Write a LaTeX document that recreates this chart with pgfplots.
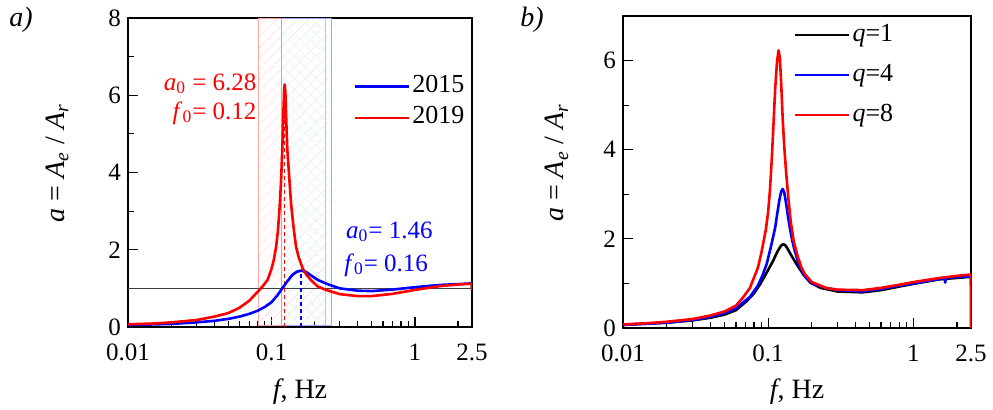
\documentclass[border=0pt]{standalone}
\usepackage{fontspec}
\setmainfont{Liberation Serif}
\usepackage{pgfplots}
\pgfplotsset{compat=1.18}
\usetikzlibrary{patterns.meta}

\pgfplotsset{
  legend image code/.code={\draw[#1] (0pt,0pt) -- (27pt,0pt);},
  every axis/.append style={
    scale only axis,
    xmin=0.01, xmax=2.5,
    ymin=0,
    xtick={0.01,0.1,1,2.5},
    xticklabels={0.01,0.1,1,2.5},
    minor xtick={0.02,0.03,0.04,0.05,0.06,0.07,0.08,0.09,0.2,0.3,0.4,0.5,0.6,0.7,0.8,0.9,2},
    minor y tick num=1,
    tick align=inside,
    xtick pos=bottom, ytick pos=left,
    major tick length=5pt, minor tick length=3pt,
    axis line style={line width=0.7pt},
    tick style={black, line width=0.6pt},
    /pgf/number format/assume math mode=true,
    tick label style={font=\fontsize{12.5}{14}\selectfont},
    xticklabel style={yshift=-5pt},
    label style={font=\fontsize{14}{16}\selectfont},
    xlabel={\textit{f}, Hz},
    ylabel={\textit{a} = \textit{A}\textsubscript{\textit{e}} / \textit{A}\textsubscript{\textit{r}}},
    legend style={draw=none, fill=none, font=\fontsize{13}{15}\selectfont,
      inner sep=0pt, nodes={text height=9pt, text depth=3pt, inner sep=1pt}},
    legend cell align=left,
    every axis plot/.append style={line join=round},
  },
}

\begin{document}
\begin{tikzpicture}
\useasboundingbox (-64pt,-41pt) rectangle (432.5pt,163.5pt);

% panel a
\begin{semilogxaxis}[
  width=172pt, height=154.5pt,
  ymax=8, ytick={0,2,4,6,8},
  xlabel style={at={(axis description cs:0.5,-0.21)}, anchor=center},
  ylabel style={at={(axis description cs:-0.206,0.53)}, anchor=center},
  legend style={at={(rel axis cs:0.655,0.824)}, anchor=north west, row sep=1.5pt},
]
% resonance bands
\addplot[forget plot, draw=red!35, line width=0.4pt,
  pattern={Lines[angle=45,distance=4pt,line width=0.3pt]}, pattern color=red!22]
  coordinates {(0.0812,0.05)(0.0812,8)(0.237,8)(0.237,0.05)(0.0812,0.05)};
\addplot[forget plot, draw=blue!35, line width=0.4pt,
  pattern={Lines[angle=-45,distance=4pt,line width=0.3pt]}, pattern color=cyan!25]
  coordinates {(0.117,0.05)(0.117,8)(0.261,8)(0.261,0.05)(0.117,0.05)};
\addplot[forget plot, black!75, line width=0.8pt] coordinates {(0.01,1)(2.5,1)};
\addplot[forget plot, red, line width=0.8pt, dash pattern=on 2pt off 1.5pt]
  coordinates {(0.1236,0)(0.1236,6.2)};
\addplot[forget plot, blue, line width=0.8pt, dash pattern=on 2pt off 1.5pt]
  coordinates {(0.161,0)(0.161,1.44)};

\addplot[blue, line width=1.3pt] coordinates {
  (0.01,0.05)(0.02,0.08)(0.03,0.12)(0.04,0.16)(0.05,0.21)(0.06,0.27)(0.07,0.34)
  (0.08,0.42)(0.09,0.52)(0.1,0.64)(0.11,0.82)(0.119,1.0)(0.13,1.2)(0.14,1.35)
  (0.15,1.43)(0.161,1.46)(0.175,1.42)(0.19,1.33)(0.21,1.22)(0.25,1.1)(0.3,1.0)
  (0.4,0.94)(0.5,0.93)(0.7,0.97)(1,1.03)(1.5,1.09)(2,1.11)(2.5,1.13)
};
\addlegendentry{2015}
\addplot[red, line width=1.3pt] coordinates {
  (0.01,0.07)(0.015,0.09)(0.02,0.12)(0.03,0.18)(0.04,0.27)(0.05,0.36)(0.06,0.5)
  (0.07,0.68)(0.0825,0.96)(0.088,1.08)(0.094,1.22)(0.1,1.5)(0.104,1.75)
  (0.1078,2.08)(0.111,2.5)(0.114,3.1)(0.1168,3.81)(0.119,4.6)(0.121,5.5)
  (0.1225,6.1)(0.1236,6.28)(0.125,6.1)(0.127,5.3)(0.129,4.6)(0.1334,3.81)
  (0.137,3.2)(0.14,2.85)(0.144,2.45)(0.1484,2.08)(0.155,1.8)(0.165,1.52)
  (0.175,1.36)(0.188,1.22)(0.21,1.05)(0.24,0.96)(0.3,0.85)
  (0.4,0.8)(0.5,0.8)(0.7,0.86)(1,0.96)(1.5,1.06)(2,1.1)(2.48,1.12)(2.5,0.95)
};
\addlegendentry{2019}

\node[red, anchor=east, font=\fontsize{12.5}{14}\selectfont, inner sep=0pt]
  at (axis cs:0.079,6.3) {\textit{a}\textsubscript{0} = 6.28};
\node[red, anchor=east, font=\fontsize{12.5}{14}\selectfont, inner sep=0pt]
  at (axis cs:0.079,5.54) {\textit{f}\textsubscript{0}= 0.12};
\node[blue, anchor=west, font=\fontsize{12.5}{14}\selectfont, inner sep=0pt]
  at (axis cs:0.33,2.46) {\textit{a}\textsubscript{0}= 1.46};
\node[blue, anchor=west, font=\fontsize{12.5}{14}\selectfont, inner sep=0pt]
  at (axis cs:0.32,1.6) {\textit{f}\textsubscript{0}= 0.16};
\end{semilogxaxis}
\node[font=\fontsize{14}{16}\selectfont\itshape] at (-53.5pt,153.5pt) {a)};

% panel b
\begin{semilogxaxis}[at={(247.5pt,-0.5pt)},
  width=174pt, height=156pt,
  ymax=7, ytick={0,2,4,6},
  xlabel style={at={(axis description cs:0.5,-0.205)}, anchor=center},
  ylabel style={at={(axis description cs:-0.19,0.53)}, anchor=center},
  legend style={at={(rel axis cs:0.49,0.985)}, anchor=north west, row sep=6pt},
]
\addplot[black, line width=1.3pt] coordinates {
  (0.01,0.07)(0.02,0.12)(0.03,0.17)(0.04,0.23)(0.05,0.3)(0.06,0.4)(0.071,0.6)
  (0.08,0.78)(0.088,0.98)(0.098,1.25)(0.108,1.5)(0.113,1.64)(0.118,1.76)
  (0.123,1.85)(0.127,1.88)(0.131,1.86)(0.135,1.8)(0.145,1.62)(0.158,1.42)
  (0.175,1.2)(0.195,1.02)(0.23,0.9)
  (0.3,0.82)(0.45,0.8)(0.6,0.85)(0.8,0.93)(1,0.99)(1.5,1.09)(2.5,1.15)
};
\addlegendentry{\textit{q}=1}
\addplot[blue, line width=1.3pt] coordinates {
  (0.01,0.07)(0.02,0.12)(0.03,0.18)(0.04,0.25)(0.05,0.33)(0.06,0.44)(0.075,0.7)
  (0.085,0.95)(0.092,1.2)(0.098,1.45)(0.105,1.85)(0.1118,2.25)(0.116,2.6)
  (0.12,2.9)(0.123,3.06)(0.126,3.12)(0.129,3.05)(0.133,2.8)(0.137,2.5)
  (0.142,2.2)(0.147,1.95)(0.152,1.75)(0.162,1.45)(0.17,1.3)(0.18,1.15)
  (0.2,1.0)(0.25,0.9)(0.3,0.85)(0.45,0.82)(0.6,0.88)(0.8,0.95)(1,1.0)
  (1.5,1.1)(1.64,1.12)(1.66,1.02)(1.68,1.13)(2.5,1.16)
};
\addlegendentry{\textit{q}=4}
\addplot[red, line width=1.3pt] coordinates {
  (0.01,0.08)(0.015,0.11)(0.02,0.14)(0.03,0.2)(0.04,0.28)(0.05,0.37)(0.06,0.5)
  (0.067,0.68)(0.075,0.9)(0.0788,1.08)(0.085,1.35)(0.09,1.7)(0.0964,2.2)
  (0.1,2.6)(0.103,3.1)(0.106,3.8)(0.109,4.6)(0.112,5.4)(0.115,5.95)
  (0.118,6.23)(0.1205,6.05)(0.123,5.5)(0.126,4.7)(0.129,4.1)(0.133,3.5)
  (0.138,2.9)(0.143,2.4)(0.15,1.95)(0.16,1.6)(0.17,1.35)(0.18,1.2)(0.2,1.03)
  (0.25,0.9)(0.3,0.86)(0.45,0.85)(0.6,0.9)(0.8,0.97)(1,1.03)(1.5,1.12)(2,1.17)
  (2.49,1.2)(2.5,0)
};
\addlegendentry{\textit{q}=8}
\end{semilogxaxis}
\node[font=\fontsize{14}{16}\selectfont\itshape] at (202pt,153.5pt) {b)};
\end{tikzpicture}
\end{document}
